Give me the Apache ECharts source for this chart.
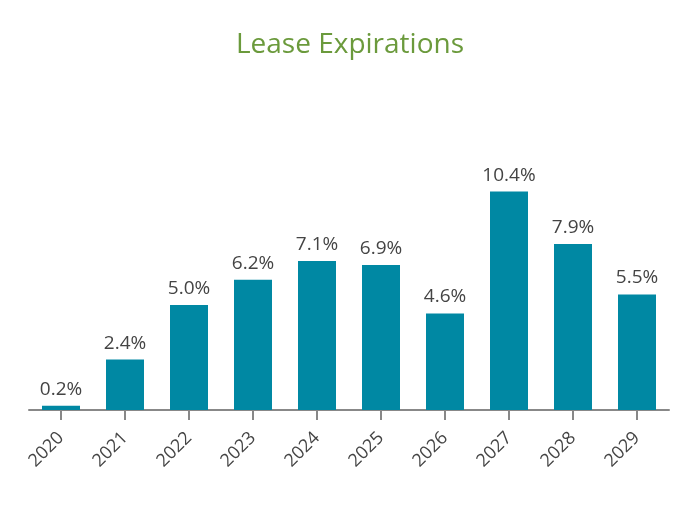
<!DOCTYPE html>
<html>
<head>
<meta charset="utf-8">
<script src="https://cdn.jsdelivr.net/npm/echarts@6/dist/echarts.min.js"></script>
<style>
  html, body { margin: 0; padding: 0; background: #fff; }
  #chart { width: 700px; height: 506px; }
</style>
</head>
<body>
<div id="chart"></div>
<script>
const years = ["2020", "2021", "2022", "2023", "2024", "2025", "2026", "2027", "2028", "2029"];
const expirations = [0.2, 2.4, 5.0, 6.2, 7.1, 6.9, 4.6, 10.4, 7.9, 5.5];

const chart = echarts.init(document.getElementById("chart"));

chart.setOption({
  animation: false,
  title: {
    text: "Lease Expirations",
    left: "center",
    top: 26,
    textStyle: {
      color: "#6b9a3c",
      fontFamily: "Open Sans",
      fontWeight: "normal",
      fontSize: 28,
    },
  },
  grid: { left: 29, right: 31, top: 158, bottom: 96 },
  xAxis: {
    type: "category",
    data: years,
    axisLine: { lineStyle: { color: "#888888", width: 2 } },
    axisTick: {
      show: true,
      alignWithLabel: true,
      length: 10,
      lineStyle: { color: "#888888", width: 2 },
    },
    axisLabel: {
      rotate: 45,
      color: "#444444",
      fontFamily: "Open Sans",
      fontSize: 18,
      margin: 25,
      interval: 0,
    },
  },
  yAxis: {
    type: "value",
    min: 0,
    max: 12,
    show: false,
    splitLine: { show: false },
  },
  series: [
    {
      type: "bar",
      data: expirations,
      barWidth: 38,
      itemStyle: { color: "#0088a3" },
      label: {
        show: true,
        position: "top",
        distance: 7,
        color: "#444444",
        fontFamily: "Open Sans",
        fontSize: 19,
        formatter: (p) => p.value.toFixed(1) + "%",
      },
    },
  ],
});
</script>
</body>
</html>
